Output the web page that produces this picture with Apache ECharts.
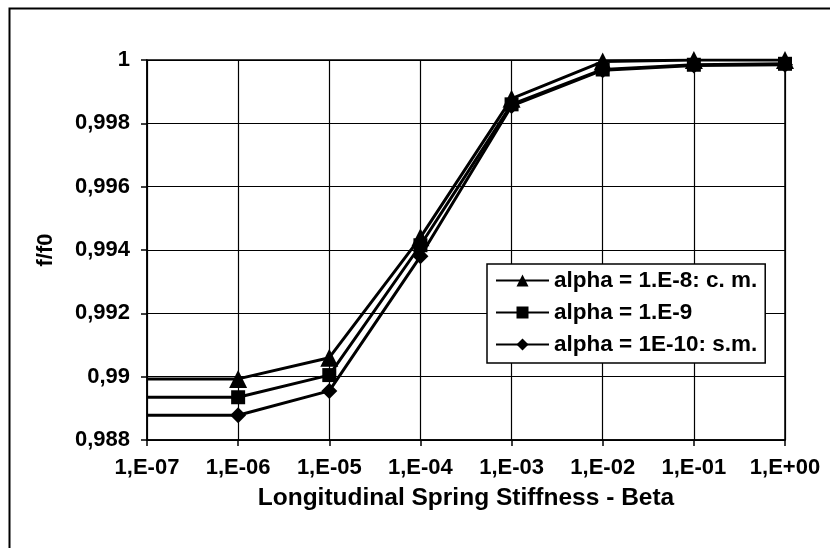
<!DOCTYPE html>
<html>
<head>
<meta charset="utf-8">
<script src="https://cdn.jsdelivr.net/npm/echarts@6/dist/echarts.min.js"></script>
</head>
<body style="margin:0;background:#fff;">

<div id="main" style="width: 830px;height:548px;"></div>

<script type="text/javascript">
    var categories = ['1,E-07', '1,E-06', '1,E-05', '1,E-04', '1,E-03', '1,E-02', '1,E-01', '1,E+00'];
    var alphaCM = [0.98993, 0.98993, 0.99060, 0.99440, 0.99878, 0.99995, 1.0, 1.0];
    var alpha9 = [0.98935, 0.98935, 0.99005, 0.99415, 0.99860, 0.99970, 0.99985, 0.99988];
    var alphaSM = [0.98878, 0.98878, 0.98955, 0.99380, 0.99855, 0.99968, 0.99983, 0.99985];
    var seriesNames = ['alpha = 1.E-8: c. m.', 'alpha = 1.E-9', 'alpha = 1E-10: s.m.'];

    var font = 'Liberation Sans, Arial, sans-serif';

    // first point sits on the axis without a marker
    function points(arr) {
        return arr.map(function (v, i) {
            return i === 0 ? {value: v, symbol: 'none'} : v;
        });
    }

    function makeSeries(name, data, symbol, size) {
        return {
            name: name,
            type: 'line',
            data: points(data),
            symbol: symbol,
            symbolSize: size,
            showAllSymbol: true,
            lineStyle: {color: '#000', width: 3},
            itemStyle: {color: '#000'},
            emphasis: {disabled: true},
            animation: false
        };
    }

    var myChart = echarts.init(document.getElementById('main'));

    var option = {
        backgroundColor: '#fff',
        animation: false,
        textStyle: {fontFamily: font},
        graphic: [{
            type: 'rect',
            shape: {x: 9.5, y: 8.5, width: 900, height: 600},
            style: {fill: 'none', stroke: '#000', lineWidth: 2},
            silent: true
        }],
        grid: {
            left: 147,
            right: 45,
            top: 60,
            bottom: 108,
            show: true,
            borderColor: '#000',
            borderWidth: 1.5
        },
        legend: {
            orient: 'vertical',
            left: 487,
            top: 264,
            width: 278,
            padding: [5, 8, 7, 8],
            itemGap: 9,
            itemWidth: 53,
            itemHeight: 15,
            backgroundColor: '#fff',
            borderColor: '#000',
            borderWidth: 1.5,
            textStyle: {fontFamily: font, fontSize: 22.5, fontWeight: 'bold', color: '#000'},
            data: seriesNames
        },
        xAxis: {
            type: 'category',
            boundaryGap: false,
            data: categories,
            name: 'Longitudinal Spring Stiffness - Beta',
            nameLocation: 'middle',
            nameGap: 46,
            nameTextStyle: {fontFamily: font, fontSize: 24.5, fontWeight: 'bold', color: '#000'},
            axisLine: {lineStyle: {color: '#000', width: 1.5}},
            axisTick: {show: true, length: 6, interval: 0, lineStyle: {color: '#000', width: 1.5}},
            axisLabel: {
                fontFamily: font, fontSize: 22, fontWeight: 'bold', color: '#000', margin: 17,
                interval: 0, hideOverlap: false
            },
            splitLine: {show: true, interval: 0, lineStyle: {color: '#000', width: 1.2}}
        },
        yAxis: {
            type: 'value',
            min: 0.988,
            max: 1,
            interval: 0.002,
            name: 'f/f0',
            nameLocation: 'middle',
            nameGap: 90,
            nameMoveOverlap: false,
            nameRotate: 90,
            nameTextStyle: {fontFamily: font, fontSize: 22, fontWeight: 'bold', color: '#000'},
            axisLine: {show: true, lineStyle: {color: '#000', width: 1.5}},
            axisTick: {show: true, length: 6, lineStyle: {color: '#000', width: 1.5}},
            axisLabel: {
                fontFamily: font, fontSize: 22, fontWeight: 'bold', color: '#000', margin: 17,
                formatter: function (v) {
                    return String(parseFloat(v.toFixed(3))).replace('.', ',');
                }
            },
            splitLine: {show: true, lineStyle: {color: '#000', width: 1.2}}
        },
        series: [
            makeSeries(seriesNames[0], alphaCM, 'triangle', 18),
            makeSeries(seriesNames[1], alpha9, 'rect', 14),
            makeSeries(seriesNames[2], alphaSM, 'diamond', 16)
        ]
    };

    myChart.setOption(option);
</script>
</body>
</html>
